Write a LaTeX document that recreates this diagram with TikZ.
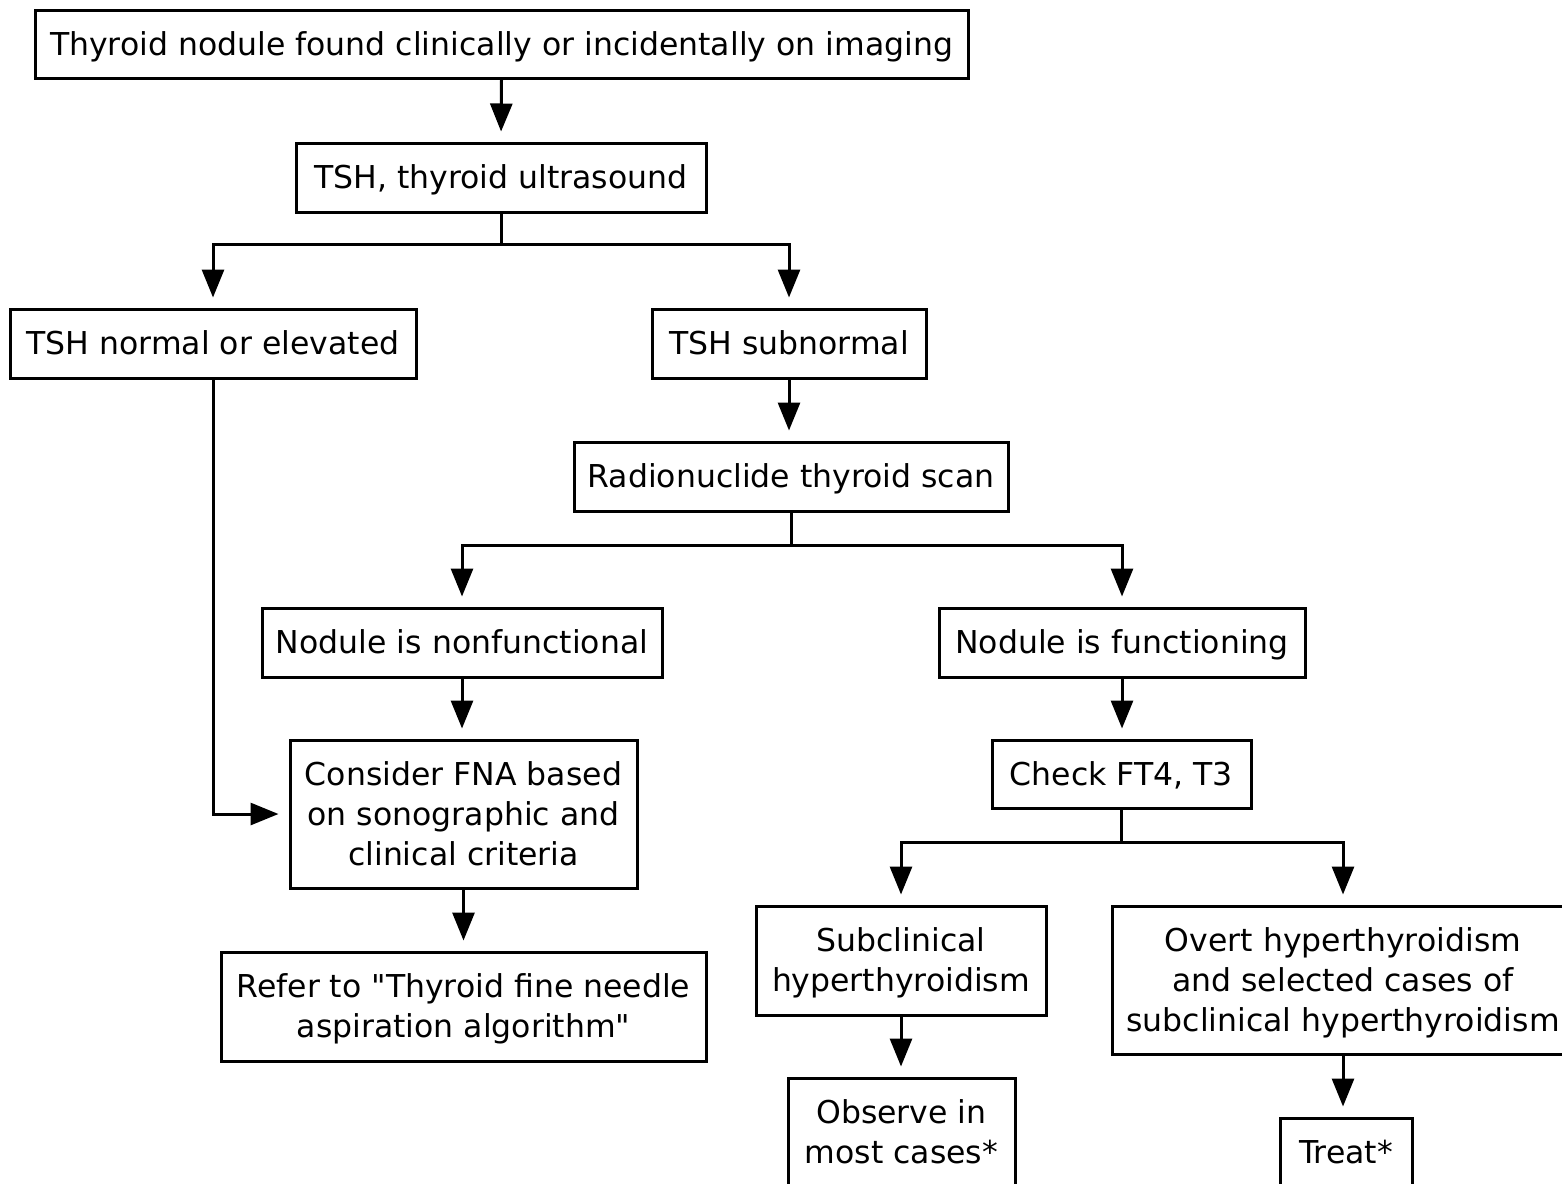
\documentclass[tikz,border=0pt]{standalone}
\usepackage{fontspec}
\newfontfamily\dvfont{DejaVu Sans}
\usetikzlibrary{arrows.meta,calc}
\tikzset{
  box/.style={draw=black, line width=3pt, fill=white, inner sep=0pt, align=center,
    text depth=1pt, text height=23pt,
    font=\dvfont\fontsize{31.5}{40}\selectfont},
  twolines/.style={text height=63pt},
  threelines/.style={text height=103pt},
  conn/.style={line width=3pt},
  arr/.style={conn, -{Triangle[length=28pt,width=22pt]}, shorten >=10pt},
}
\begin{document}
\begin{tikzpicture}[x=1pt,y=-1pt]
\fill[white] (0,0) rectangle (1562,1183);
\useasboundingbox (0,0) rectangle (1562,1183);
\begin{scope}
\clip (0,0) rectangle (1562,1183);
\node[box, minimum width=933pt, minimum height=68pt] (b1) at (501.5,44) {Thyroid nodule found clinically or incidentally on imaging};
\node[box, minimum width=410pt, minimum height=69pt] (b2) at (501,177.5) {TSH, thyroid ultrasound};
\node[box, minimum width=406pt, minimum height=69pt] (b3) at (213,343.5) {TSH normal or elevated};
\node[box, minimum width=274pt, minimum height=69pt] (b4) at (789,343.5) {TSH subnormal};
\node[box, minimum width=434pt, minimum height=69pt] (b5) at (791,476.5) {Radionuclide thyroid scan};
\node[box, minimum width=400pt, minimum height=69pt] (b6) at (462,642.5) {Nodule is nonfunctional};
\node[box, minimum width=366pt, minimum height=69pt] (b7) at (1122,642.5) {Nodule is functioning};
\node[box, threelines, minimum width=347pt, minimum height=148pt] (b8) at (463.5,814) {Consider FNA based\\on sonographic and\\clinical criteria};
\node[box, minimum width=259pt, minimum height=68pt] (b9) at (1121.5,774) {Check FT4, T3};
\node[box, twolines, minimum width=290pt, minimum height=109pt] (b10) at (901,960.5) {Subclinical\\hyperthyroidism};
\node[box, threelines, minimum width=462pt, minimum height=148pt] (b11) at (1343,980) {Overt hyperthyroidism\\and selected cases of\\subclinical hyperthyroidism};
\node[box, twolines, minimum width=485pt, minimum height=109pt] (b12) at (463.5,1006.5) {Refer to "Thyroid fine needle\\aspiration algorithm"};
\node[box, twolines, minimum width=227pt, minimum height=109pt] (b13) at (901.5,1132.5) {Observe in\\most cases*};
\node[box, minimum width=132pt, minimum height=69pt] (b14) at (1346,1152.5) {Treat*};

\draw[arr] (b1.south) -- (b2.north);
\coordinate (j1) at ($(b2.south)+(0,31)$);
\draw[conn] (b2.south) -- (j1);
\draw[arr] (j1) -| (b3.north);
\draw[arr] (j1) -| (b4.north);
\draw[arr] (b4.south) -- (b4.south |- b5.north);
\coordinate (j2) at ($(b5.south)+(0,33)$);
\draw[conn] (b5.south) -- (j2);
\draw[arr] (j2) -| (b6.north);
\draw[arr] (j2) -| (b7.north);
\draw[arr] (b3.south) |- (b8.west);
\draw[arr] (b6.south) -- (b6.south |- b8.north);
\draw[arr] (b7.south) -- (b7.south |- b9.north);
\coordinate (j3) at ($(b9.south)+(0,33)$);
\draw[conn] (b9.south) -- (j3);
\draw[arr] (j3) -| (b10.north);
\draw[arr] (j3) -| (b11.north);
\draw[arr] (b8.south) -- (b8.south |- b12.north);
\draw[arr] (b10.south) -- (b10.south |- b13.north);
\draw[arr] (b11.south) -- (b11.south |- b14.north);
\end{scope}
\end{tikzpicture}
\end{document}
